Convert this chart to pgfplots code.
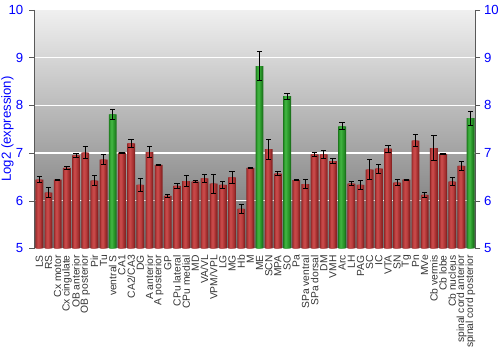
\documentclass[border=0pt]{standalone}
\usepackage{fontspec}
\setmainfont{Liberation Sans}
\usepackage{pgfplots}
\usepackage{pgfplotstable}
\pgfplotsset{compat=1.18}
\definecolor{tickblue}{HTML}{0000FF}
\definecolor{r1}{HTML}{8A2424}
\definecolor{r2}{HTML}{A23030}
\definecolor{r3}{HTML}{B83C3C}
\definecolor{r4}{HTML}{C64848}
\definecolor{g1}{HTML}{1C741C}
\definecolor{g2}{HTML}{268C26}
\definecolor{g3}{HTML}{30A030}
\definecolor{g4}{HTML}{3EB03E}
\definecolor{bgtop}{HTML}{F0F0F0}
\definecolor{bgbot}{HTML}{6E6E6E}
\pgfplotstableread{
x y e
0 6.44 0.06
1 6.17 0.11
2 6.44 0.01
3 6.69 0.035
4 6.95 0.05
5 7.01 0.13
6 6.42 0.10
7 6.86 0.10
9 7.01 0.01
10 7.20 0.075
11 6.33 0.14
12 7.02 0.12
13 6.75 0.02
14 6.10 0.035
15 6.31 0.05
16 6.41 0.12
17 6.40 0.02
18 6.47 0.09
19 6.36 0.20
20 6.33 0.07
21 6.49 0.13
22 5.83 0.10
23 6.69 0.01
25 7.08 0.21
26 6.57 0.05
28 6.43 0.01
29 6.35 0.09
30 6.97 0.05
31 6.97 0.08
32 6.83 0.05
34 6.36 0.05
35 6.33 0.10
36 6.65 0.21
37 6.67 0.10
38 7.09 0.075
39 6.38 0.07
40 6.44 0.015
41 7.26 0.13
42 6.12 0.05
43 7.10 0.26
44 6.98 0.005
45 6.40 0.09
46 6.73 0.09
}\reddata
\pgfplotstableread{
x y e
8 7.81 0.11
24 8.82 0.30
27 8.19 0.06
33 7.56 0.075
47 7.73 0.15
}\greendata
\begin{document}
\begin{tikzpicture}
\pgfplotsset{
  common/.style={
    scale only axis, width=333.75pt, height=180.75pt,
    xmin=-0.5, xmax=47.5, ymin=5, ymax=10,
    ytick={5,6,7,8,9,10},
    /pgf/number format/assume math mode=true,
    y axis line style={draw=gray!70!black},
    ytick style={draw=gray!70!black},
    tick align=outside, major tick length=4pt,
  }
}
\begin{axis}[common, name=main,
  yticklabel style={font=\fontsize{10}{12}\selectfont, text=tickblue, inner sep=1pt, xshift=-3.5pt},
  axis y line*=left,
  axis x line*=bottom,
  x axis line style={draw=none},
  xtick={0,...,47},
  xtick style={draw=none},
  xticklabels={LS,RS,Cx motor,Cx cingulate,OB anterior,OB posterior,Pir,Tu,ventral S,CA1,CA2/CA3,DG,A anterior,A posterior,GP,CPu lateral,CPu medial,MD,VA/VL,VPM/VPL,LG,MG,Hb,M,ME,SCN,MPA,SO,Pa,SPa ventral,SPa dorsal,DM,VMH,Arc,LH,PAG,SC,IC,VTA,SN,Tg,Pn,MVe,Cb vermis,Cb lobe,Cb nucleus,spinal cord anterior,spinal cord posterior},
  xticklabel style={rotate=90, anchor=east, font=\fontsize{7.8}{8}\selectfont, text=black!80, inner sep=1pt},
  ylabel={Log2 (expression)},
  ylabel style={font=\fontsize{10}{12}\selectfont, text=tickblue, inner sep=1pt},
  ylabel shift=-6pt,
  axis background/.style={top color=bgtop, bottom color=bgbot},
  ymajorgrids, grid style={white, line width=0.9pt},
  ybar,
]
% red bars, layered for a horizontal shading
\addplot[bar shift=0pt, bar width=0.86, fill=r1, draw=none] table[x=x,y=y] {\reddata};
\addplot[bar shift=-0.03, bar width=0.66, fill=r2, draw=none] table[x=x,y=y] {\reddata};
\addplot[bar shift=-0.06, bar width=0.46, fill=r3, draw=none] table[x=x,y=y] {\reddata};
\addplot[bar shift=-0.08, bar width=0.24, fill=r4, draw=none] table[x=x,y=y] {\reddata};
% green bars
\addplot[bar shift=0pt, bar width=0.86, fill=g1, draw=none] table[x=x,y=y] {\greendata};
\addplot[bar shift=-0.03, bar width=0.66, fill=g2, draw=none] table[x=x,y=y] {\greendata};
\addplot[bar shift=-0.06, bar width=0.46, fill=g3, draw=none] table[x=x,y=y] {\greendata};
\addplot[bar shift=-0.08, bar width=0.24, fill=g4, draw=none] table[x=x,y=y] {\greendata};
% error bars
\addplot[bar shift=0pt, bar width=0.86, fill=none, draw=none,
  error bars/.cd, y dir=both, y explicit,
  error bar style={black, line width=0.7pt},
  error mark options={rotate=90, black, mark size=2pt, line width=0.7pt}]
  table[x=x,y=y,y error=e] {\reddata};
\addplot[bar shift=0pt, bar width=0.86, fill=none, draw=none,
  error bars/.cd, y dir=both, y explicit,
  error bar style={black, line width=0.7pt},
  error mark options={rotate=90, black, mark size=2pt, line width=0.7pt}]
  table[x=x,y=y,y error=e] {\greendata};
\end{axis}
\begin{axis}[common,
  yticklabel style={font=\fontsize{10}{12}\selectfont, text=tickblue, inner sep=1pt, xshift=1.5pt},
  axis y line*=right,
  axis x line=none,
]
\end{axis}
\path (main.north west) ++(0,7.5pt);
\end{tikzpicture}
\end{document}
